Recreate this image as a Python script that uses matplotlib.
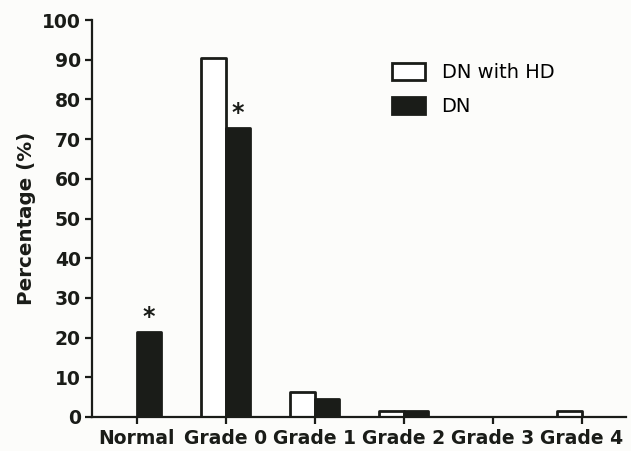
import matplotlib.pyplot as plt
import numpy as np
from matplotlib.patches import Patch

categories = ["Normal", "Grade 0", "Grade 1", "Grade 2", "Grade 3", "Grade 4"]
dn_with_hd = [0, 90.5, 6.4, 1.6, 0, 1.6]
dn = [21.3, 72.7, 4.5, 1.4, 0, 0]
# significance stars above the DN bars
star_idx = [0, 1]

ink = '#1a1c18'
plt.rcParams['font.family'] = 'DejaVu Sans'

fig = plt.figure(figsize=(6.31, 4.51), dpi=100)
fig.patch.set_facecolor('#fcfcfa')
ax = fig.add_axes([92/631, 1-417/451, (626-92)/631, (417-20)/451])
ax.set_facecolor('#fcfcfa')

x = np.arange(len(categories))
w = 0.27
b1 = ax.bar(x - w/2, dn_with_hd, w, facecolor='white', edgecolor=ink, linewidth=2.0)
b2 = ax.bar(x + w/2, dn, w, facecolor=ink, edgecolor=ink, linewidth=2.0)
for p in list(b1) + list(b2):
    p.set_joinstyle('round')

for i in star_idx:
    ax.text(x[i] + w/2, dn[i] + 2.2, '*', ha='center', va='baseline',
            fontsize=17, fontweight='bold', color=ink)

ax.set_xlim(-0.5, 5.5)
ax.set_ylim(0, 100)
ax.set_yticks(range(0, 101, 10))
ax.set_xticks(x)
ax.set_xticklabels(categories)

for s in ['top', 'right']:
    ax.spines[s].set_visible(False)
for s in ['left', 'bottom']:
    ax.spines[s].set_linewidth(1.6)
    ax.spines[s].set_color(ink)

ax.tick_params(axis='both', length=5, width=1.6, color=ink, labelcolor=ink, labelsize=13.5)
ax.tick_params(axis='y', pad=3)
ax.tick_params(axis='x', pad=4)
for lab in ax.get_xticklabels() + ax.get_yticklabels():
    lab.set_fontweight('bold')

ax.set_ylabel('Percentage (%)', fontsize=14.3, fontweight='bold', color=ink, labelpad=4)

handles = [Patch(facecolor='white', edgecolor=ink, linewidth=2.0, joinstyle='round'),
           Patch(facecolor=ink, edgecolor=ink, linewidth=2.0, joinstyle='round')]
ax.legend(handles, ['DN with HD', 'DN'], loc='upper left', frameon=False,
          bbox_to_anchor=(392/631, 1-63/451), bbox_transform=fig.transFigure,
          fontsize=14, handlelength=1.7, handleheight=1.0, handletextpad=0.85,
          labelspacing=0.75, borderpad=0, borderaxespad=0)

fig.savefig('out.png', dpi=100, facecolor=fig.get_facecolor())
